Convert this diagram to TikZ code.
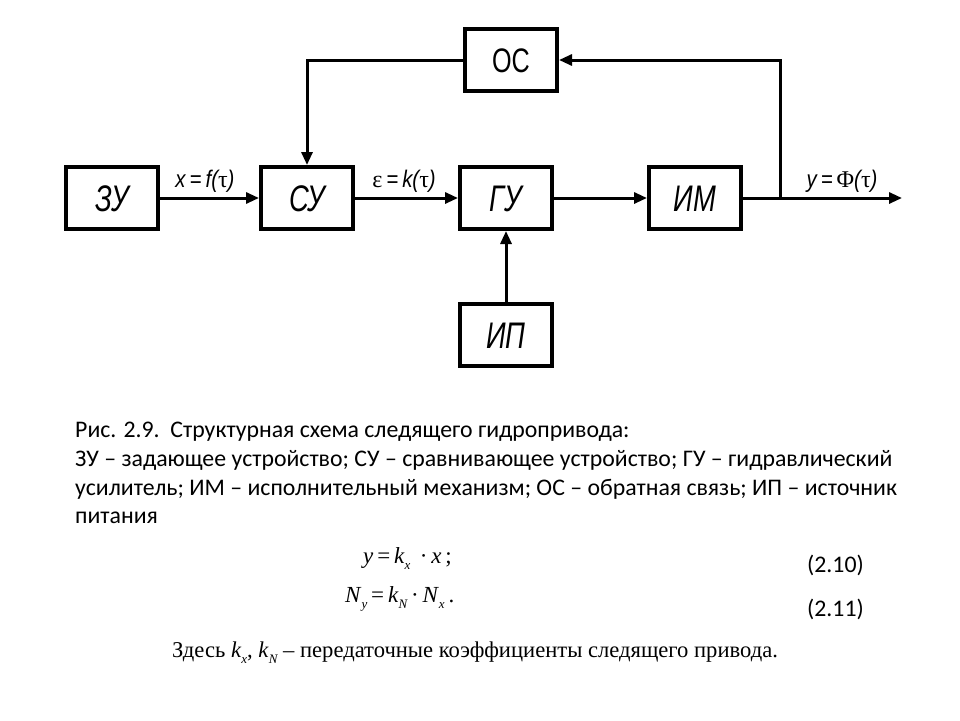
\documentclass[tikz,border=0pt]{standalone}
\usepackage{fontspec}
\setmainfont{Carlito}
\newfontfamily\blockfont[FakeStretch=0.74]{Liberation Sans}
\newfontfamily\signalfont[FakeStretch=0.85]{Liberation Sans}
\newfontfamily\timesfont{Liberation Serif}
\usetikzlibrary{arrows.meta,positioning}
\newcommand\lowidx[1]{\raisebox{-6pt}{\fontsize{13}{13}\selectfont\itshape #1}}
\newcommand\gr[1]{{\timesfont\upshape #1}}
\tikzset{
  block/.style={draw, line width=4pt, minimum width=92pt, minimum height=62pt, inner sep=0pt,
    text height=26.5pt, text depth=0pt, font=\blockfont\itshape\fontsize{37}{37}\selectfont},
  link/.style={line width=3pt, -{Triangle[length=13pt,width=11pt]}},
  signal/.style={anchor=base, inner sep=0pt, font=\signalfont\itshape\fontsize{24}{24}\selectfont},
  captionline/.style={anchor=base west, inner sep=0pt, font=\fontsize{23.8}{23.8}\selectfont},
  formula/.style={anchor=base west, inner sep=0pt, font=\timesfont\fontsize{23}{23}\selectfont},
}
\begin{document}
\begin{tikzpicture}[x=1pt,y=-1pt]
\useasboundingbox (0,0) rectangle (960,720);
% blocks
\node[block] (zu) at (112,198) {ЗУ};
\node[block] (su) at (307,198) {СУ};
\node[block] (gu) at (506,198) {ГУ};
\node[block] (im) at (695,198) {ИМ};
\node[block, font=\blockfont\fontsize{34}{34}\selectfont, text height=24.5pt] (os) at (511,60) {ОС};
\node[block] (ip) at (506,335) {ИП};
\coordinate (tap) at (780,198);
\coordinate (out) at (902,198);
% connectors
\draw[link] (zu) -- (su);
\draw[link] (su) -- (gu);
\draw[link] (gu) -- (im);
\draw[link] (ip) -- (gu);
\draw[link] (im) -- (out);
\draw[link] (tap) |- (os);
\draw[link] (os) -| (su);
% signals
\node[signal] (xsig) at (205,187) {x\,=\,f(\gr{τ})};
\node[signal] (esig) at (404,187) {\gr{ε}\,=\,k(\gr{τ})};
\node[signal] (ysig) at (842,187) {y\,=\,\gr{Φ}(\gr{τ})};
% caption
\node[captionline] (cap1) at (75,437) {Рис. 2.9.\ \ Структурная схема следящего гидропривода:};
\node[captionline] (cap2) at (75,466) {ЗУ – задающее устройство; СУ – сравнивающее устройство; ГУ – гидравлический};
\node[captionline] (cap3) at (75,495) {усилитель; ИМ – исполнительный механизм; ОС – обратная связь; ИП – источник};
\node[captionline] (cap4) at (75,523) {питания};
% formulas
\node[formula] (eq1) at (363,563) {\textit{y}\,=\,\textit{k}\lowidx{x}\ \,·\,\textit{x}\,;};
\node[formula] (eq2) at (345,602) {\textit{N}\lowidx{y}\,=\,\textit{k}\lowidx{N}\,·\,\textit{N}\lowidx{x}\,.};
\node[captionline] (num1) at (807,572) {(2.10)};
\node[captionline] (num2) at (807,616) {(2.11)};
\node[formula, font=\timesfont\fontsize{22.6}{22.6}\selectfont] (note) at (172,657) {Здесь \textit{k}\lowidx{x}, \textit{k}\lowidx{N} – передаточные коэффициенты следящего привода.};
\end{tikzpicture}
\end{document}
